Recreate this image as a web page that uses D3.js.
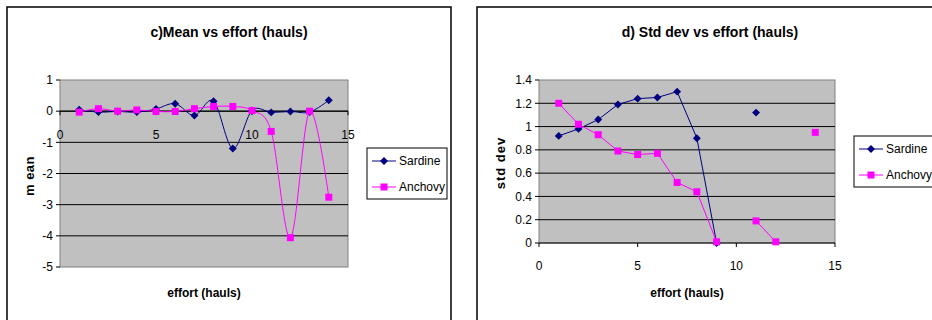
<!DOCTYPE html>
<head>
  <meta charset="utf-8">
  <title>Mean and std dev vs effort</title>
  <script src="https://d3js.org/d3.v7.min.js"></script>
  <style>
    body { margin: 0; background: #fff; font-family: 'Liberation Sans', Arial, sans-serif; }
    text { font-family: 'Liberation Sans', Arial, sans-serif; fill: #000; }
    .title, .axis-title { font-weight: 700; }
    .title { font-size: 14px; }
    .axis-title { font-size: 12px; }
    .tick-label { font-size: 12px; }
    .grid-line { stroke: #000; stroke-width: 1; }
    .frame { fill: #fff; stroke: #000; stroke-width: 1.5; }
    .plot-bg { fill: #c0c0c0; stroke: #808080; stroke-width: 1; }
  </style>
</head>
<body>
<script>
  // effort (hauls)
  var effort = [1, 2, 3, 4, 5, 6, 7, 8, 9, 10, 11, 12, 13, 14];

  // c) mean
  var sardineMean = [0.05, -0.03, -0.01, -0.03, 0.07, 0.24, -0.14, 0.32, -1.2, 0.02, -0.04, -0.01, -0.03, 0.35];
  var anchovyMean = [-0.03, 0.08, 0.0, 0.04, -0.01, -0.01, 0.08, 0.15, 0.15, 0.02, -0.65, -4.06, 0.0, -2.76];

  // d) std dev (null = no value)
  var sardineSd = [0.92, 0.98, 1.06, 1.19, 1.24, 1.25, 1.30, 0.90, 0.0, null, 1.12, null, null, null];
  var anchovySd = [1.20, 1.02, 0.93, 0.79, 0.76, 0.77, 0.52, 0.44, 0.01, null, 0.19, 0.01, null, 0.95];

  var xTicks = [0, 5, 10, 15];
  var meanTicks = [1, 0, -1, -2, -3, -4, -5];
  var sdTicks = [0, 0.2, 0.4, 0.6, 0.8, 1, 1.2, 1.4];
  var seriesNames = ["Sardine", "Anchovy"];

  var colors = { Sardine: "#000080", Anchovy: "#ff00ff" };

  var svg = d3.select("body").append("svg")
    .attr("width", 932)
    .attr("height", 320);

  function zip(vals) {
    return effort.map(function(e, i) { return { x: e, y: vals[i] }; });
  }

  function panel(cfg) {
    var g = svg.append("g");

    g.append("rect").attr("class", "frame")
      .attr("x", cfg.frame[0]).attr("y", cfg.frame[1])
      .attr("width", cfg.frame[2]).attr("height", cfg.frame[3]);

    var x = d3.scaleLinear().domain([0, 15]).range([cfg.left, cfg.right]);
    var y = d3.scaleLinear().domain(cfg.yDomain).range([cfg.bottom, cfg.top]);

    g.append("rect").attr("class", "plot-bg")
      .attr("x", cfg.left).attr("y", cfg.top)
      .attr("width", cfg.right - cfg.left).attr("height", cfg.bottom - cfg.top);

    // grid lines
    g.append("g").selectAll("line")
      .data(cfg.yTicks.filter(function(t) { return t !== cfg.yDomain[1] && t !== cfg.yDomain[0]; }))
      .enter().append("line")
        .attr("class", "grid-line")
        .attr("x1", cfg.left).attr("x2", cfg.right)
        .attr("y1", function(d) { return y(d); })
        .attr("y2", function(d) { return y(d); });

    // y axis ticks + labels
    var yAx = g.append("g");
    yAx.selectAll("line").data(cfg.yTicks).enter().append("line")
      .attr("x1", cfg.left - 4).attr("x2", cfg.left)
      .attr("y1", function(d) { return y(d); })
      .attr("y2", function(d) { return y(d); })
      .attr("stroke", "#000");
    yAx.selectAll("text").data(cfg.yTicks).enter().append("text")
      .attr("class", "tick-label")
      .attr("x", cfg.left - 7)
      .attr("y", function(d) { return y(d); })
      .attr("dy", "0.36em")
      .attr("text-anchor", "end")
      .text(function(d) { return cfg.yFormat(d); });

    // x axis at y = 0
    var y0 = y(0);
    g.append("line")
      .attr("x1", cfg.left).attr("x2", cfg.right)
      .attr("y1", y0).attr("y2", y0)
      .attr("stroke", "#000");
    g.append("g").selectAll("line").data(xTicks).enter().append("line")
      .attr("x1", function(d) { return x(d); })
      .attr("x2", function(d) { return x(d); })
      .attr("y1", y0).attr("y2", y0 + 4)
      .attr("stroke", "#000");
    g.append("g").selectAll("text").data(xTicks).enter().append("text")
      .attr("class", "tick-label")
      .attr("x", function(d) { return x(d); })
      .attr("y", cfg.xLabelY)
      .attr("dy", "0.36em")
      .attr("text-anchor", "middle")
      .text(function(d) { return d; });

    // titles
    g.append("text").attr("class", "title")
      .attr("x", cfg.titleX).attr("y", 37)
      .attr("text-anchor", "middle")
      .text(cfg.title);
    g.append("text").attr("class", "axis-title")
      .attr("x", cfg.xTitleX).attr("y", 297)
      .attr("text-anchor", "middle")
      .text("effort (hauls)");
    g.append("text").attr("class", "axis-title")
      .attr("transform", "translate(" + [cfg.yTitleX, cfg.yTitleY] + ") rotate(-90)")
      .attr("text-anchor", "middle")
      .attr("letter-spacing", cfg.yTitleSpacing)
      .style("font-size", "13px")
      .text(cfg.yTitle);

    // series
    var line = d3.line()
      .defined(function(d) { return d.y !== null; })
      .x(function(d) { return x(d.x); })
      .y(function(d) { return y(d.y); })
      .curve(cfg.smooth ? d3.curveCatmullRom.alpha(0) : d3.curveLinear);

    cfg.series.forEach(function(s) {
      var pts = zip(s.values);
      g.append("path")
        .attr("d", line(pts))
        .attr("fill", "none")
        .attr("stroke", colors[s.name])
        .attr("stroke-width", 1);
      var shown = pts.filter(function(d) { return d.y !== null; });
      if (s.name === "Sardine") {
        g.append("g").selectAll("path").data(shown).enter().append("path")
          .attr("d", d3.symbol().type(d3.symbolDiamond2).size(40))
          .attr("transform", function(d) { return "translate(" + x(d.x) + "," + y(d.y) + ")"; })
          .attr("fill", colors.Sardine);
      } else {
        g.append("g").selectAll("rect").data(shown).enter().append("rect")
          .attr("x", function(d) { return x(d.x) - 3.5; })
          .attr("y", function(d) { return y(d.y) - 3.5; })
          .attr("width", 7).attr("height", 7)
          .attr("fill", colors.Anchovy);
      }
    });

    // legend
    var lg = g.append("g").attr("transform", "translate(" + cfg.legend[0] + "," + cfg.legend[1] + ")");
    lg.append("rect")
      .attr("width", cfg.legendW).attr("height", 51)
      .attr("fill", "#fff").attr("stroke", "#000").attr("stroke-width", 1);
    seriesNames.forEach(function(name, i) {
      var ly = 13 + i * 26;
      lg.append("line")
        .attr("x1", 5).attr("x2", 29).attr("y1", ly).attr("y2", ly)
        .attr("stroke", colors[name]);
      if (name === "Sardine") {
        lg.append("path")
          .attr("d", d3.symbol().type(d3.symbolDiamond2).size(40))
          .attr("transform", "translate(17," + ly + ")")
          .attr("fill", colors[name]);
      } else {
        lg.append("rect").attr("x", 13.5).attr("y", ly - 3.5)
          .attr("width", 7).attr("height", 7).attr("fill", colors[name]);
      }
      lg.append("text").attr("class", "tick-label")
        .attr("x", 32).attr("y", ly).attr("dy", "0.36em")
        .text(name);
    });
  }

  panel({
    frame: [7, 7, 444, 330],
    left: 60, right: 348, top: 80, bottom: 267,
    yDomain: [-5, 1], yTicks: meanTicks,
    yFormat: function(d) { return d; },
    xLabelY: 135,
    title: "c)Mean vs effort (hauls)", titleX: 229,
    xTitleX: 204,
    yTitle: "m ean", yTitleX: 34, yTitleY: 176, yTitleSpacing: "0.5px",
    smooth: true,
    series: [{ name: "Sardine", values: sardineMean }, { name: "Anchovy", values: anchovyMean }],
    legend: [367, 148], legendW: 80
  });

  panel({
    frame: [477, 7, 470, 330],
    left: 539, right: 835, top: 80, bottom: 243,
    yDomain: [0, 1.4], yTicks: sdTicks,
    yFormat: function(d) { return d3.format("")(+d.toFixed(1)); },
    xLabelY: 266,
    title: "d) Std dev vs effort (hauls)", titleX: 710,
    xTitleX: 687,
    yTitle: "std dev", yTitleX: 505, yTitleY: 163, yTitleSpacing: "1px",
    smooth: false,
    series: [{ name: "Sardine", values: sardineSd }, { name: "Anchovy", values: anchovySd }],
    legend: [854, 136], legendW: 90
  });
</script>
</body>
